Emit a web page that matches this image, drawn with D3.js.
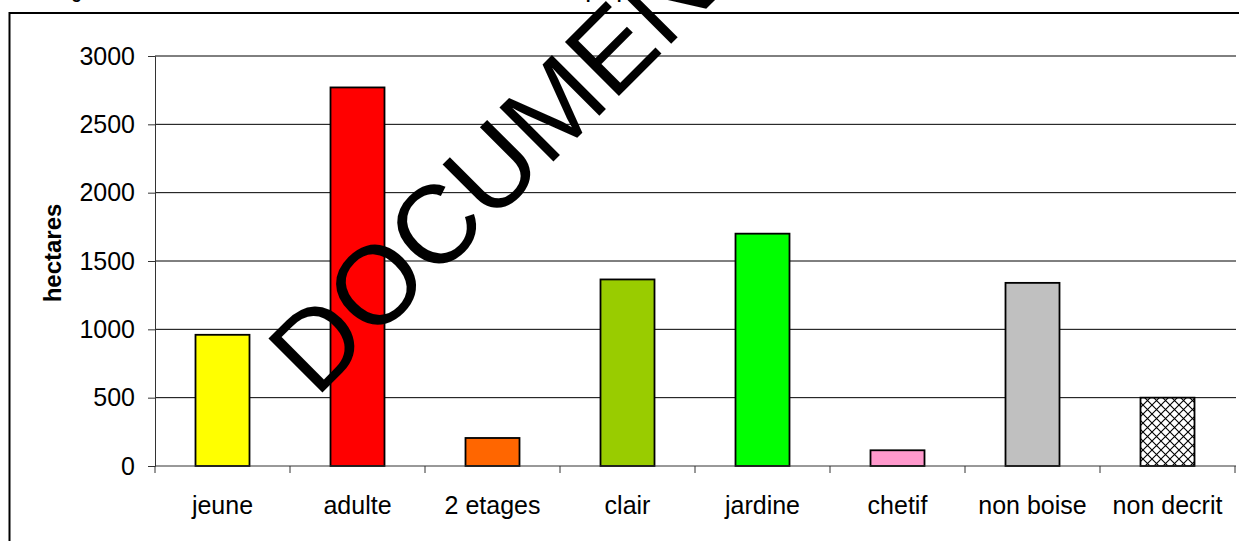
<!DOCTYPE html>
<html><head><meta charset="utf-8">
<script src="https://cdn.jsdelivr.net/npm/d3@7"></script>
<style>html,body{margin:0;padding:0;background:#fff;overflow:hidden}text{font-family:"Liberation Sans",Arial,sans-serif}</style>
</head><body>
<script>
const categories = ["jeune","adulte","2 etages","clair","jardine","chetif","non boise","non decrit"];
const values = [960, 2770, 205, 1365, 1700, 115, 1340, 500];
const colors = ["#FFFF00","#FF0000","#FF6600","#99CC00","#00FF00","#FF99CC","#C0C0C0","url(#hatch)"];
const yTicks = [0,500,1000,1500,2000,2500,3000];
const yLabel = "hectares";
const titleText = "Diagramme 1 : surfaces des differentes structures forestieres de peuplement";
const watermark = "DOCUMENT";

const W = 1239, H = 541;
const svg = d3.select("body").append("svg").attr("width", W).attr("height", H);

const defs = svg.append("defs");
const pat = defs.append("pattern").attr("id","hatch").attr("patternUnits","userSpaceOnUse")
  .attr("width",9).attr("height",9);
pat.append("rect").attr("width",9).attr("height",9).attr("fill","#fff");
pat.append("path").attr("d","M0,0L9,9M9,0L0,9").attr("stroke","#000").attr("stroke-width",1.1);

// title (mostly cut off at top, as in the reference)
svg.append("text").attr("x", 44).attr("y", -1.6).attr("font-size", 17.5).attr("font-weight","bold").text(titleText);

// outer frame
svg.append("rect").attr("x",9.5).attr("y",13).attr("width",W+20).attr("height",H+20)
  .attr("fill","none").attr("stroke","#000").attr("stroke-width",2);

const xb = d3.scaleBand().domain(categories).range([155, 1235]);
const y = d3.scaleLinear().domain([0,3000]).range([466, 56]);
const barW = 54;

// gridlines
svg.append("g").selectAll("line").data(yTicks.filter(d=>d>0)).join("line")
  .attr("x1",155).attr("x2",1236).attr("y1",d=>y(d)).attr("y2",d=>y(d))
  .attr("stroke","#000").attr("stroke-width",1);

// bars
svg.append("g").selectAll("rect").data(values).join("rect")
  .attr("x",(d,i)=>xb(categories[i]) + (xb.bandwidth()-barW)/2)
  .attr("width",barW)
  .attr("y",d=>y(d)).attr("height",d=>y(0)-y(d))
  .attr("fill",(d,i)=>colors[i]).attr("stroke","#000").attr("stroke-width",1.8);

// y axis
const ya = svg.append("g").attr("transform","translate(155,0)")
  .call(d3.axisLeft(y).tickValues(yTicks).tickFormat(d3.format("d")).tickSize(7).tickPadding(13));
ya.select(".domain").attr("stroke","#333");
ya.selectAll(".tick line").attr("stroke","#333");
ya.selectAll("text").attr("font-size",25).attr("fill","#000").attr("font-family","Liberation Sans, Arial");

// x axis
const xa = svg.append("g").attr("transform","translate(0,466)");
xa.append("line").attr("x1",155).attr("x2",1236).attr("y1",0).attr("y2",0).attr("stroke","#333");
const bounds = categories.map(c=>xb(c)).concat([xb(categories[categories.length-1])+xb.bandwidth()]);
xa.selectAll("line.t").data(bounds).join("line").attr("class","t")
  .attr("x1",d=>d).attr("x2",d=>d).attr("y1",0).attr("y2",7).attr("stroke","#333");
xa.selectAll("text").data(categories).join("text")
  .attr("x",d=>xb(d)+xb.bandwidth()/2).attr("y",48)
  .attr("text-anchor","middle").attr("font-size",25).text(d=>d);

// y label
svg.append("text").attr("transform","translate(61,253) rotate(-90)")
  .attr("text-anchor","middle").attr("font-size",24).attr("font-weight","bold").text(yLabel);

// watermark
svg.append("text").attr("transform","translate(316,399) rotate(-45)")
  .attr("font-size",111).attr("fill","#000").text(watermark);
</script>
</body></html>
